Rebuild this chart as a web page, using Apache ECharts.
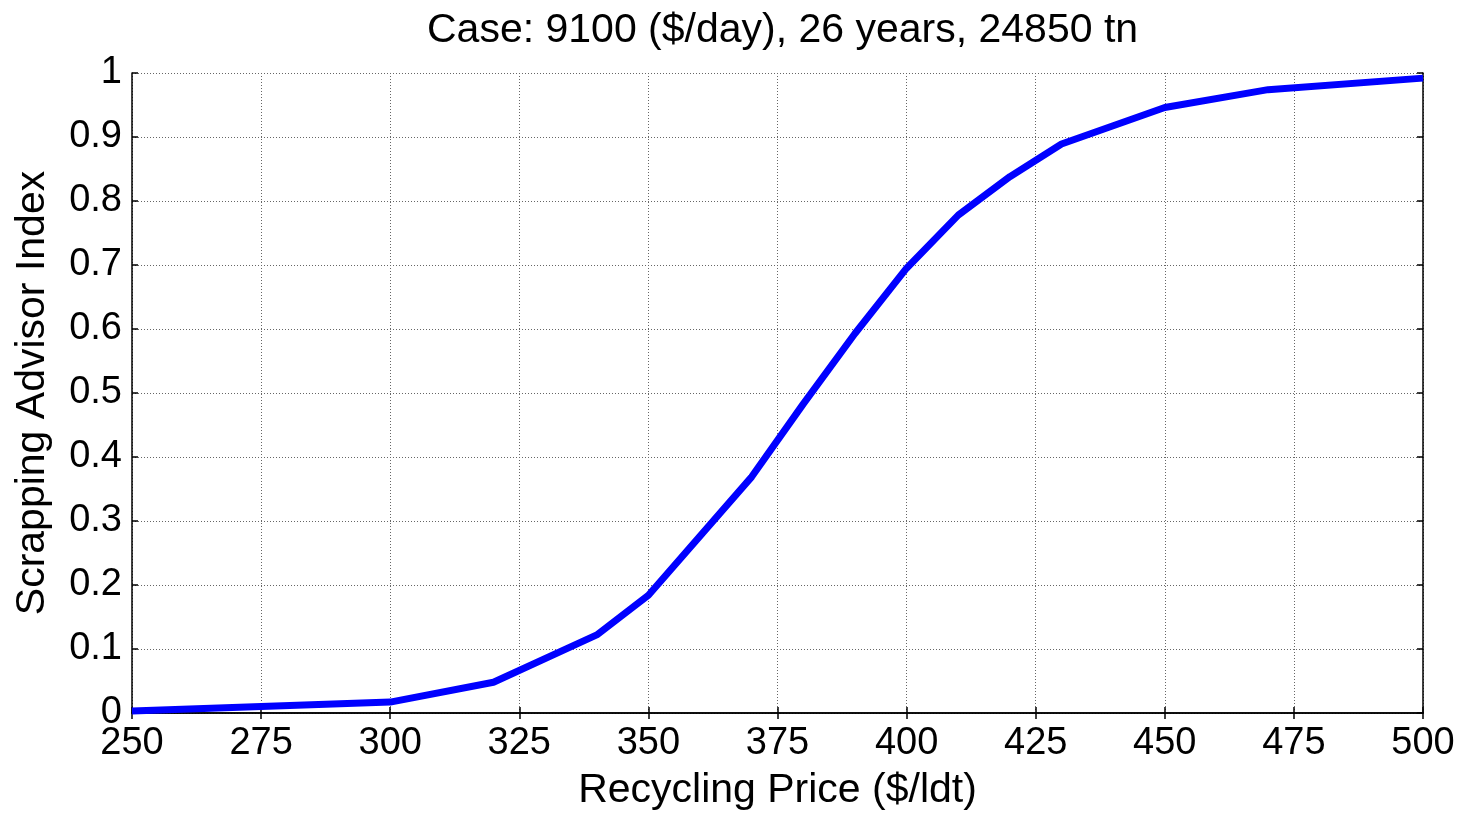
<!DOCTYPE html>
<html>
<head>
<meta charset="utf-8">
<script src="https://cdn.jsdelivr.net/npm/echarts@6/dist/echarts.min.js"></script>
<style>
html, body { margin: 0; padding: 0; background: #fff; }
#chart { width: 1468px; height: 813px; }
</style>
</head>
<body>
<div id="chart"></div>
<script>
const prices = [250, 300, 320, 340, 350, 370, 380, 390, 400, 410, 420, 430, 450, 470, 500]
const index = [0.003, 0.017, 0.048, 0.122, 0.184, 0.369, 0.483, 0.593, 0.695, 0.778, 0.838, 0.889, 0.946, 0.974, 0.992]
const titleText = 'Case: 9100 ($/day), 26 years, 24850 tn'

const font = "'Liberation Sans', Arial, sans-serif"
const gridLine = { show: true, lineStyle: { color: '#666', width: 1, type: [1, 2] } }

const chart = echarts.init(document.getElementById('chart'))
const baseAxis = {
	axisLine: { show: true, lineStyle: { color: '#000', width: 1.5 } },
	axisTick: { show: true, inside: true, length: 6, lineStyle: { color: '#000', width: 1.5 } },
}
chart.setOption({
	animation: false,
	// centred over the plot area, not the page
	title: {
		text: titleText, left: 422, top: 5,
		textStyle: { fontFamily: font, fontSize: 41, fontWeight: 'normal', color: '#000' },
	},
	grid: { left: 132, right: 45, top: 73, bottom: 100, outerBoundsMode: 'none' },
	xAxis: [
		Object.assign({
			type: 'value', min: 250, max: 500, interval: 25,
			name: 'Recycling Price ($/ldt)', nameLocation: 'middle', nameGap: 57,
			nameTextStyle: { fontFamily: font, fontSize: 41, color: '#000', verticalAlign: 'top' },
			axisLabel: { fontFamily: font, fontSize: 38, color: '#000', margin: 12 },
			splitLine: gridLine,
		}, baseAxis),
		Object.assign({
			type: 'value', min: 250, max: 500, interval: 25, position: 'top',
			axisLabel: { show: false }, splitLine: { show: false },
		}, baseAxis),
	],
	yAxis: [
		Object.assign({
			type: 'value', min: 0, max: 1, interval: 0.1,
			name: 'Scrapping Advisor Index', nameLocation: 'middle', nameGap: 99,
			nameTextStyle: { fontFamily: font, fontSize: 41, color: '#000', verticalAlign: 'middle' },
			axisLabel: { fontFamily: font, fontSize: 38, color: '#000', margin: 10 },
			splitLine: gridLine,
		}, baseAxis),
		Object.assign({
			type: 'value', min: 0, max: 1, interval: 0.1, position: 'right',
			axisLabel: { show: false }, splitLine: { show: false },
		}, baseAxis),
	],
	series: [{
		type: 'line',
		data: prices.map((p, i) => [p, index[i]]),
		showSymbol: false,
		lineStyle: { color: '#0000ff', width: 7 },
		itemStyle: { color: '#0000ff' },
	}],
})
</script>
</body>
</html>
